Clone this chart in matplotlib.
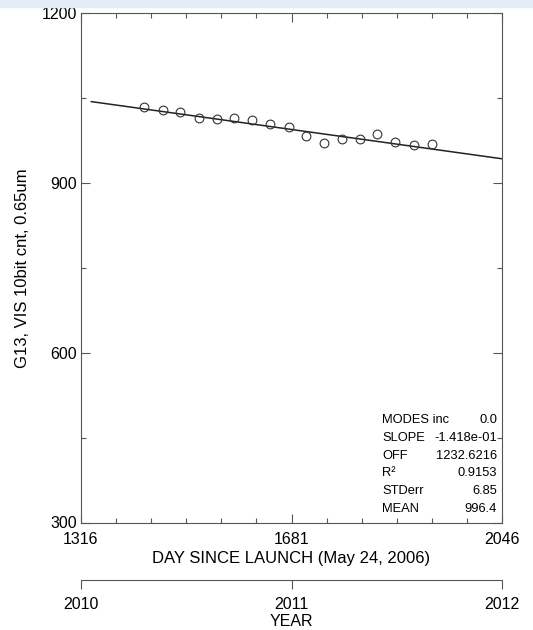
import matplotlib
import numpy as np

matplotlib.use("Agg")
import matplotlib.pyplot as plt  # noqa: E402
from matplotlib.patches import Rectangle  # noqa: E402
from matplotlib.ticker import FixedLocator  # noqa: E402

plt.rcParams["font.family"] = ["Liberation Sans", "DejaVu Sans"]

# monthly mean counts vs day since launch
days = [1426, 1458, 1488, 1520, 1551, 1582, 1613, 1644, 1676, 1707,
        1737, 1768, 1799, 1830, 1861, 1893, 1924]
counts = [1034.7, 1028.3, 1024.8, 1014.7, 1012.4, 1015.2, 1010.6, 1004.7, 998.8, 982.9,
          970.6, 978.2, 978.2, 987.0, 972.4, 966.6, 968.9]

fit_slope = -1.418e-01
fit_off = 1232.6216
fit_range = [1334, 2046]

stat_names = ["MODES inc", "SLOPE", "OFF", "R\u00b2", "STDerr", "MEAN"]
stat_values = ["0.0", "-1.418e-01", "1232.6216", "0.9153", "6.85", "996.4"]

x_ticks = [1316, 1681, 2046]
y_ticks = [300, 600, 900, 1200]
years = ["2010", "2011", "2012"]

axis_color = "#555555"
W, H = 533, 630

fig = plt.figure(figsize=(5.33, 6.30), dpi=100)
fig.patches.append(Rectangle((0, 1 - 7 / H), 1, 7 / H, transform=fig.transFigure,
                             color="#e3ebf5", zorder=0))

ax = fig.add_axes([81 / W, 1 - 522.5 / H, 421 / W, 509.5 / H])
ax.set_xlim(1316, 2046)
ax.set_ylim(300, 1200)

fit_x = np.array(fit_range)
ax.plot(fit_x, fit_off + fit_slope * fit_x, color="#222222", lw=1.1, clip_on=False)
ax.plot(days, counts, "o", mfc="none", mec="#333333", ms=6.3, mew=0.8)

ax.xaxis.set_major_locator(FixedLocator(x_ticks))
ax.xaxis.set_minor_locator(FixedLocator(np.linspace(1316, 2046, 13)))
ax.yaxis.set_major_locator(FixedLocator(y_ticks))
ax.yaxis.set_minor_locator(FixedLocator(np.arange(300, 1201, 150)))
ax.tick_params(which="both", direction="in", top=True, right=True, color=axis_color,
               labelsize=11.5, width=0.8)
ax.tick_params(which="major", length=6.5)
ax.tick_params(which="minor", length=3.3)
ax.tick_params(axis="x", pad=7)
ax.tick_params(axis="y", pad=3)
for spine in ax.spines.values():
    spine.set_color(axis_color)
    spine.set_linewidth(0.8)

ax.set_xlabel("DAY SINCE LAUNCH (May 24, 2006)", fontsize=12, labelpad=3)
ax.set_ylabel("G13, VIS 10bit cnt, 0.65um", fontsize=12, labelpad=8)

for i, (name, value) in enumerate(zip(stat_names, stat_values)):
    y = 420 + i * 17.8
    fig.text(382 / W, 1 - y / H, name, fontsize=9.3, va="center", ha="left")
    fig.text(497 / W, 1 - y / H, value, fontsize=9.3, va="center", ha="right")

# secondary year axis
yax = fig.add_axes([81 / W, 1 - 580 / H, 421 / W, 0.001])
yax.set_xlim(0, 2)
yax.set_ylim(0, 1)
for side in ["top", "left", "right"]:
    yax.spines[side].set_visible(False)
yax.spines["bottom"].set_color(axis_color)
yax.spines["bottom"].set_linewidth(0.8)
yax.set_yticks([])
yax.set_xticks(range(len(years)))
yax.set_xticklabels(years)
yax.tick_params(axis="x", direction="out", length=6.5, width=0.8, color=axis_color,
                labelsize=11.5, pad=6)
yax.set_xlabel("YEAR", fontsize=11.5, labelpad=1)

fig.savefig("out.png", dpi=100)
